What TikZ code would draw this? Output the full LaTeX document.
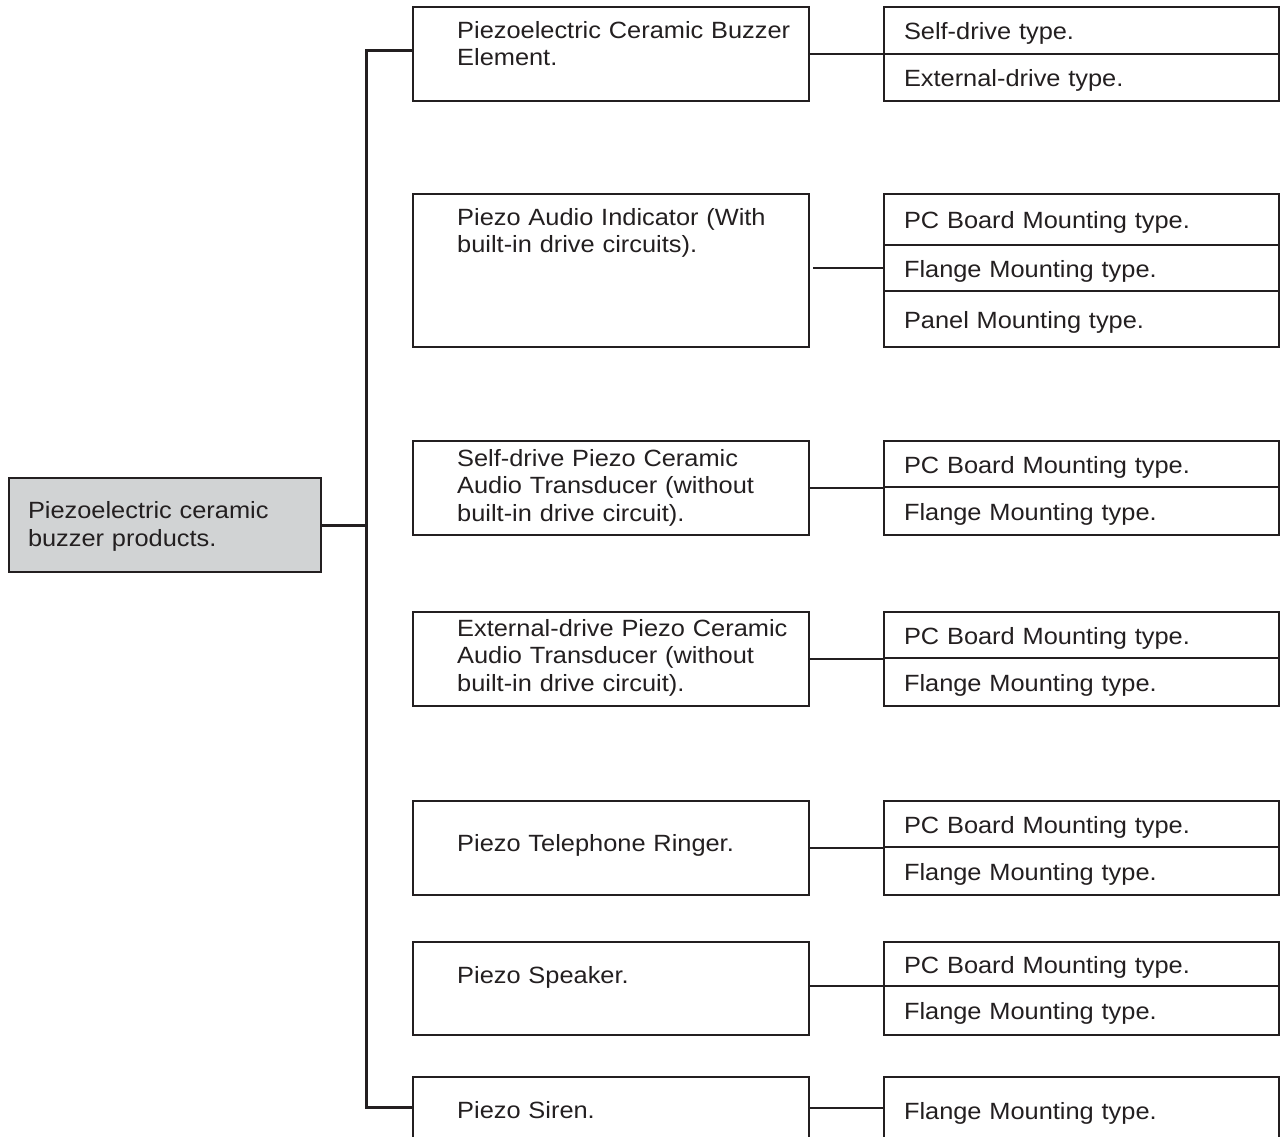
\documentclass[tikz,border=0pt]{standalone}
\usepackage{fontspec}
\setmainfont{Liberation Sans}[FakeStretch=1.08]
\usepackage{tikz}
\usetikzlibrary{positioning, calc}
\definecolor{ink}{RGB}{35,31,32}
\definecolor{rootgrey}{RGB}{209,211,212}
\tikzset{
  rootbox/.style={rectangle, draw=ink, fill=rootgrey, line width=1.2pt, outer sep=0pt,
                  minimum width=312pt, minimum height=94pt, text width=274pt,
                  inner xsep=19pt, inner ysep=0pt, align=left,
                  text height=20pt, text depth=33pt},
  prodbox/.style={rectangle, draw=ink, line width=1.2pt, outer sep=0pt, inner sep=0pt,
                  minimum width=396pt, anchor=north west},
  prodtext/.style={anchor=base west, inner sep=0pt, text width=345pt, align=left},
  typebox/.style={rectangle, draw=ink, line width=1.2pt, outer sep=0pt,
                  minimum width=395pt, text width=355pt, inner xsep=20pt, inner ysep=0pt,
                  align=left, text height=18pt, text depth=0pt},
  trunk/.style={draw=ink, line width=3pt},
  link/.style={draw=ink, line width=1.2pt}
}

\begin{document}
\begin{tikzpicture}[x=1pt, y=-1pt,
    every node/.style={font=\fontsize{23.5}{27.5}\selectfont, text=ink}]
  \useasboundingbox (0,0) rectangle (1287,1136);
  \clip (0,0) rectangle (1287,1136);

  % root
  \node[rootbox, anchor=north west] (root) at (9,478)
        {Piezoelectric ceramic\\buzzer products.};

  % product groups
  \node[prodbox, minimum height=94pt] (elem) at (413,7) {};
  \node[prodtext] (elem-t) at ($(elem.north west)+(44,31)$)
        {Piezoelectric Ceramic Buzzer\\Element.};
  \node[prodbox, minimum height=153pt] (indic) at (413,194) {};
  \node[prodtext] (indic-t) at ($(indic.north west)+(44,31)$)
        {Piezo Audio Indicator (With\\built-in drive circuits).};
  \node[prodbox, minimum height=94pt] (selfx) at (413,441) {};
  \node[prodtext] (selfx-t) at ($(selfx.north west)+(44,25)$)
        {Self-drive Piezo Ceramic\\Audio Transducer (without\\built-in drive circuit).};
  \node[prodbox, minimum height=94pt] (extx) at (413,612) {};
  \node[prodtext] (extx-t) at ($(extx.north west)+(44,24)$)
        {External-drive Piezo Ceramic\\Audio Transducer (without\\built-in drive circuit).};
  \node[prodbox, minimum height=94pt] (ringer) at (413,801) {};
  \node[prodtext] (ringer-t) at ($(ringer.north west)+(44,50)$) {Piezo Telephone Ringer.};
  \node[prodbox, minimum height=93pt] (speaker) at (413,942) {};
  \node[prodtext] (speaker-t) at ($(speaker.north west)+(44,41)$) {Piezo Speaker.};
  \node[prodbox, minimum height=62pt] (siren) at (413,1077) {};
  \node[prodtext] (siren-t) at ($(siren.north west)+(44,41)$) {Piezo Siren.};

  % mounting types
  \node[typebox, anchor=north west, minimum height=47pt] (selfdrv) at (884,7) {Self-drive type.};
  \node[typebox, minimum height=47pt, below=0pt of selfdrv] (extdrv) {External-drive type.};

  \node[typebox, anchor=north west, minimum height=51pt] (pcb2) at (884,194) {PC Board Mounting type.};
  \node[typebox, minimum height=46pt, below=0pt of pcb2] (fl2) {Flange Mounting type.};
  \node[typebox, minimum height=56pt, below=0pt of fl2] (pan2) {Panel Mounting type.};

  \node[typebox, anchor=north west, minimum height=46pt] (pcb3) at (884,441) {PC Board Mounting type.};
  \node[typebox, minimum height=48pt, below=0pt of pcb3] (fl3) {Flange Mounting type.};

  \node[typebox, anchor=north west, minimum height=46pt] (pcb4) at (884,612) {PC Board Mounting type.};
  \node[typebox, minimum height=48pt, below=0pt of pcb4] (fl4) {Flange Mounting type.};

  \node[typebox, anchor=north west, minimum height=46pt] (pcb5) at (884,801) {PC Board Mounting type.};
  \node[typebox, minimum height=48pt, below=0pt of pcb5] (fl5) {Flange Mounting type.};

  \node[typebox, anchor=north west, minimum height=44pt] (pcb6) at (884,942) {PC Board Mounting type.};
  \node[typebox, minimum height=49pt, below=0pt of pcb6] (fl6) {Flange Mounting type.};

  \node[typebox, anchor=north west, minimum height=66pt] (fl7) at (884,1077) {Flange Mounting type.};

  % trunk
  \coordinate (jt) at (366,50);
  \coordinate (jb) at (366,1107);
  \draw[trunk] (elem.west |- jt) -- (jt) -- (jb) -- (siren.west |- jb);
  \draw[trunk] (root.east) -- (root.east -| jt);

  % links to mounting types
  \draw[link] (elem.east |- selfdrv.south) -- (selfdrv.south west);
  \draw[link, shorten <=4pt] (indic.east |- fl2.west) -- (fl2.west);
  \draw[link] (selfx.east) -- (selfx.east -| pcb3.west);
  \draw[link] (extx.east) -- (extx.east -| pcb4.west);
  \draw[link] (ringer.east) -- (ringer.east -| pcb5.west);
  \draw[link] (speaker.east |- pcb6.south) -- (pcb6.south west);
  \draw[link] (siren.east) -- (siren.east -| fl7.west);
\end{tikzpicture}
\end{document}
